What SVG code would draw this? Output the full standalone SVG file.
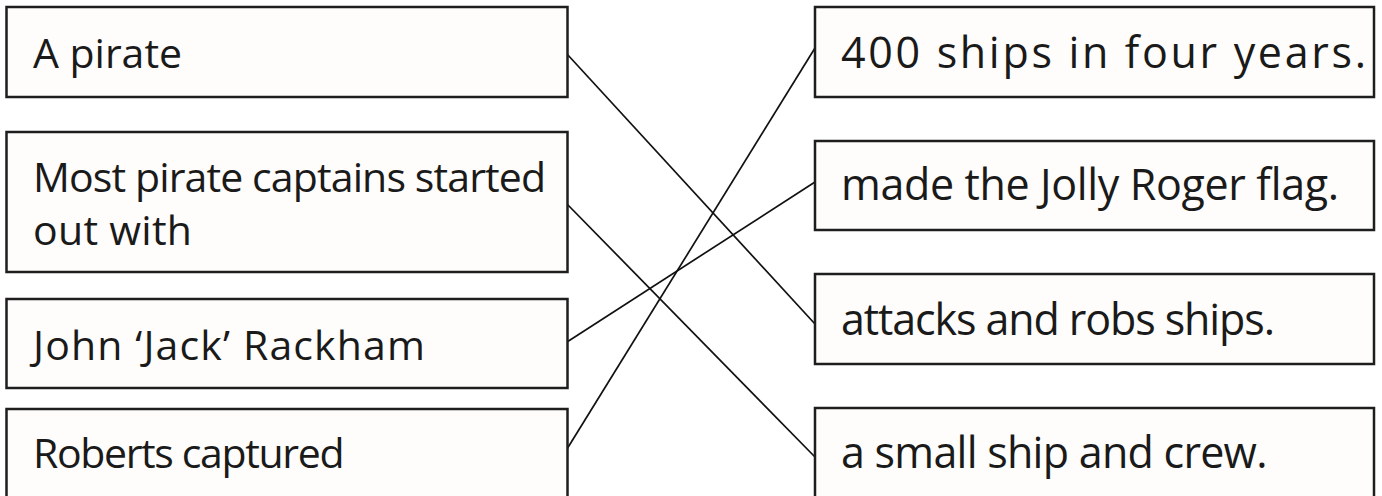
<svg xmlns="http://www.w3.org/2000/svg" width="1382" height="496" viewBox="0 0 1382 496">
<style>
.box{fill:#fefdfb;stroke:#1e1e1e;stroke-width:2.5}
.t{font-family:"Open Sans","Noto Sans","Liberation Sans",sans-serif;font-size:41px;fill:#1a1a1a}
.r{font-size:43px}
.c{stroke:#111;stroke-width:1.7;fill:none}
</style>
<rect width="1382" height="496" fill="#ffffff"/>
<g id="connectors">
<line class="c" x1="567" y1="54" x2="815" y2="324"/>
<line class="c" x1="567" y1="204" x2="815" y2="457"/>
<line class="c" x1="567" y1="342" x2="815" y2="182"/>
<line class="c" x1="567" y1="449" x2="815" y2="48"/>
</g>
<g id="l1"><rect class="box" x="6.5" y="7" width="561" height="90"/><text class="t" x="33" y="68" textLength="149" lengthAdjust="spacing">A pirate</text></g>
<g id="l2"><rect class="box" x="6.5" y="132" width="561" height="140"/><text class="t" x="33" y="192" textLength="513" lengthAdjust="spacing">Most pirate captains started</text><text class="t" x="33" y="245" textLength="159" lengthAdjust="spacing">out  with</text></g>
<g id="l3"><rect class="box" x="6.5" y="299" width="561" height="89"/><text class="t" x="33" y="360" textLength="392" lengthAdjust="spacing">John ‘Jack’ Rackham</text></g>
<g id="l4"><rect class="box" x="6.5" y="409" width="561" height="93"/><text class="t" x="33" y="468" textLength="311.5" lengthAdjust="spacing">Roberts captured</text></g>
<g id="r1"><rect class="box" x="815" y="7" width="559" height="90"/><text class="t r" x="841" y="68" textLength="525" lengthAdjust="spacing">400 ships in four years.</text></g>
<g id="r2"><rect class="box" x="815" y="141" width="559" height="89"/><text class="t r" x="841" y="200" textLength="498" lengthAdjust="spacing">made the Jolly Roger flag.</text></g>
<g id="r3"><rect class="box" x="815" y="274" width="559" height="90"/><text class="t r" x="841" y="335" textLength="434" lengthAdjust="spacing">attacks and robs ships.</text></g>
<g id="r4"><rect class="box" x="815" y="408" width="559" height="94"/><text class="t r" x="841" y="468" textLength="426.5" lengthAdjust="spacing">a small ship and crew.</text></g>
</svg>
